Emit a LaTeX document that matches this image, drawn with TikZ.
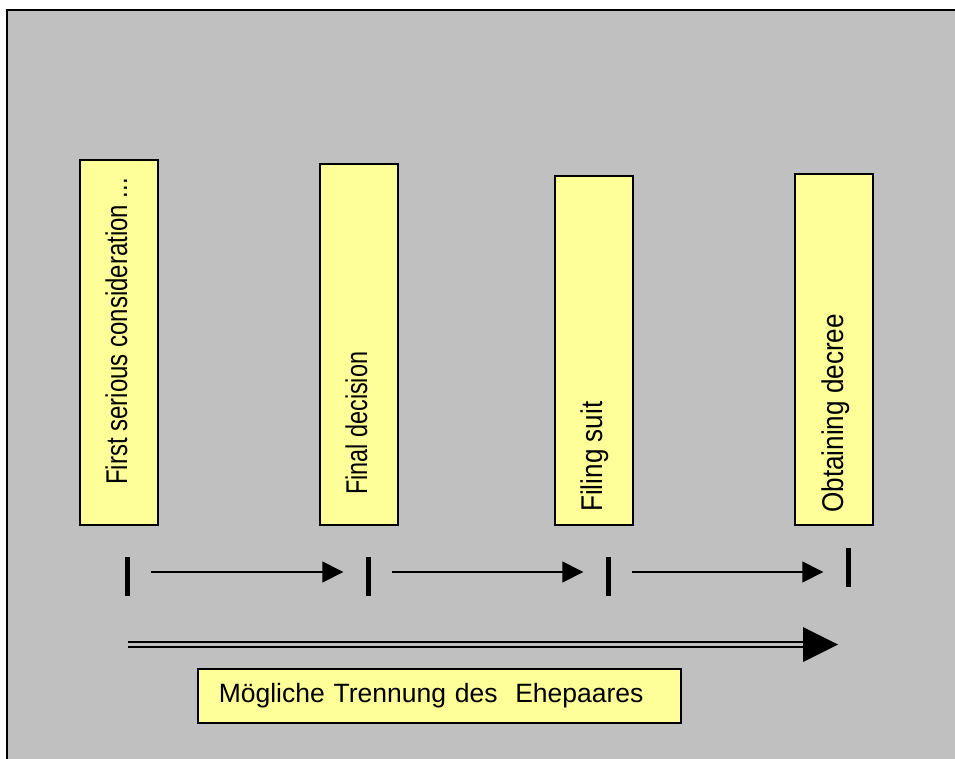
\documentclass[tikz,border=0pt]{standalone}
\usepackage{fontspec}
\setmainfont{Liberation Sans}
\usetikzlibrary{arrows.meta,calc}
\definecolor{bggray}{HTML}{C0C0C0}
\definecolor{boxyellow}{HTML}{FFFF99}
\begin{document}
\begin{tikzpicture}[x=1pt,y=-1pt,
  stage/.style={draw=black, line width=1.5pt, fill=boxyellow, minimum width=78pt, anchor=north west, inner sep=0pt},
  vlabel/.style={rotate=90, anchor=base west, inner sep=0pt, font=\fontsize{30}{34}\selectfont},
  tick/.style={fill=black, minimum width=5pt, minimum height=39pt, inner sep=0pt},
  stepline/.style={line width=1.5pt, -{Triangle[length=21pt,width=21pt]}},
  notebox/.style={draw=black, line width=1.5pt, fill=boxyellow, minimum height=54pt, text width=441pt, inner xsep=21pt, inner ysep=0pt, align=left, anchor=north west, font=\fontsize{26.5}{30}\selectfont}
]
\useasboundingbox (0,0) rectangle (955,758);
\fill[bggray] (7,10) rectangle (956,759);
\draw[line width=2pt] (7,759) -- (7,10) -- (956,10);

% stage boxes
\node[stage, minimum height=365pt] (b1) at (79,159) {};
\node[stage, minimum height=361pt] (b2) at (319,163) {};
\node[stage, minimum height=349pt] (b3) at (554,175) {};
\node[stage, minimum height=351pt] (b4) at (794,173) {};

% rotated labels
\node[vlabel] (l1) at (127,485) {\scalebox{0.8}[1]{First serious consideration ...}};
\node[vlabel] (l2) at (367,495) {\scalebox{0.78}[1]{Final decision}};
\node[vlabel] (l3) at (602,512) {\scalebox{0.87}[1]{Filing suit}};
\node[vlabel] (l4) at (843,513) {\scalebox{0.87}[1]{Obtaining decree}};

% ticks
\node[tick] (t1) at (127,576.5) {};
\node[tick] (t2) at (368,576.5) {};
\node[tick] (t3) at (608,576.5) {};
\node[tick] (t4) at (848,567) {};

% step arrows
\draw[stepline] ($(t1.east)+(21,-4.5)$) -- ($(t2.west)+(-22,-4.5)$);
\draw[stepline] ($(t2.east)+(21,-4.5)$) -- ($(t3.west)+(-22,-4.5)$);
\coordinate (a3s) at ($(t3.east)+(21,-4.5)$);
\coordinate (a3e) at ($(t3.east -| t4.west)+(-22,-4.5)$);
\draw[stepline] (a3s) -- (a3e);

% double arrow
\coordinate (ds) at (128,644.5);
\coordinate (de) at (838,644.5);
\draw[line width=2.3pt, double=bggray, double distance=2.5pt] (ds) -- ($(de)+(-35,0)$);
\fill[black] ($(de)+(-35,-17.5)$) -- (de) -- ($(de)+(-35,17.5)$) -- cycle;

% note box
\node[notebox] (tb) at (197,668) {Mögliche Trennung des\ \ Ehepaares};
\end{tikzpicture}
\end{document}
